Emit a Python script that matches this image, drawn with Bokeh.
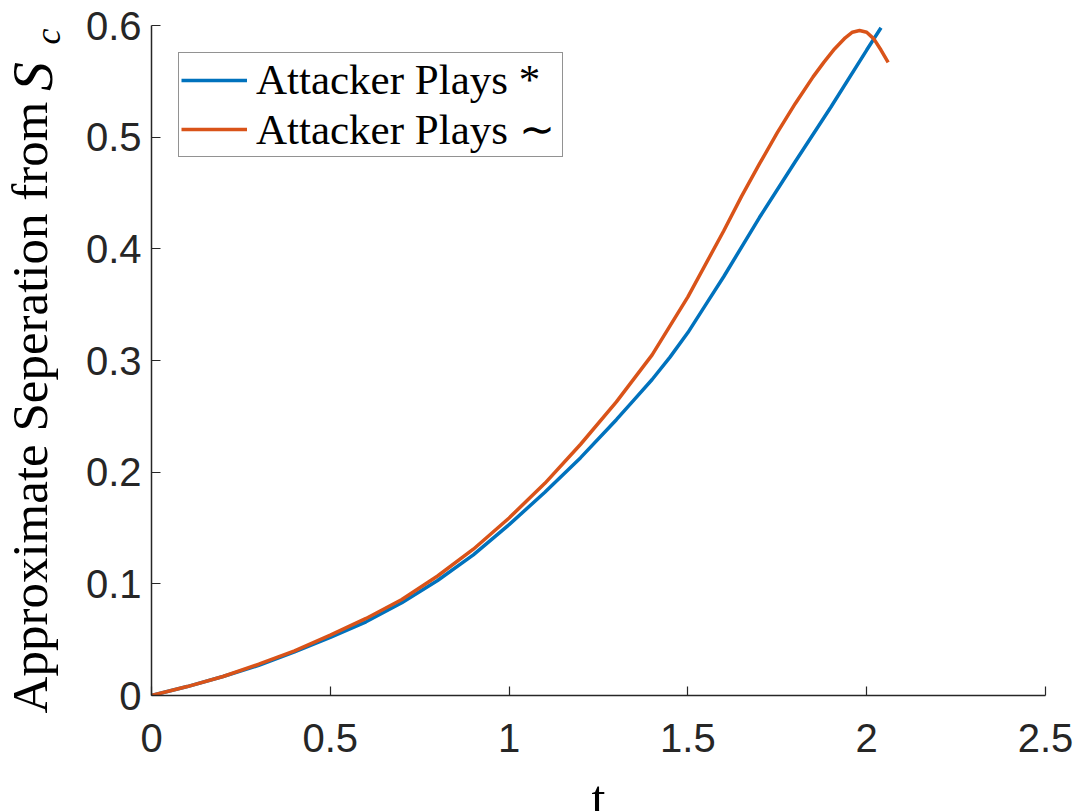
import math
from bokeh.plotting import figure
from bokeh.layouts import row, column
from bokeh.models import Legend, LegendItem, FixedTicker, Range1d
from bokeh.core.properties import value
from bokeh.embed import file_html
from bokeh.resources import INLINE

# ---- data ----
t_star = [0.00, 0.10, 0.20, 0.30, 0.40, 0.50, 0.60, 0.70, 0.80, 0.90, 1.00, 1.10,
          1.20, 1.30, 1.35, 1.40, 1.45, 1.50, 1.55, 1.60, 1.70, 1.80, 1.90, 2.00, 2.04]
sep_star = [0.000, 0.008, 0.017, 0.027, 0.039, 0.052, 0.066, 0.083, 0.103, 0.126, 0.153, 0.182,
            0.213, 0.247, 0.265, 0.283, 0.303, 0.325, 0.350, 0.375, 0.428, 0.478, 0.527, 0.578, 0.598]

t_tilde = [0.00, 0.10, 0.20, 0.30, 0.40, 0.50, 0.60, 0.70, 0.80, 0.90, 1.00, 1.10, 1.20,
           1.30, 1.40, 1.50, 1.60, 1.65, 1.70, 1.75, 1.80, 1.85, 1.88, 1.91, 1.94, 1.96,
           1.98, 2.00, 2.02, 2.04, 2.06]
sep_tilde = [0.000, 0.008, 0.017, 0.028, 0.040, 0.054, 0.069, 0.086, 0.107, 0.131, 0.159, 0.190, 0.225,
             0.263, 0.305, 0.357, 0.416, 0.447, 0.476, 0.504, 0.530, 0.554, 0.567, 0.579, 0.589, 0.594,
             0.5955, 0.594, 0.588, 0.578, 0.567]

x_ticks = [0, 0.5, 1, 1.5, 2, 2.5]
x_tick_labels = ["0", "0.5", "1", "1.5", "2", "2.5"]
y_ticks = [0, 0.1, 0.2, 0.3, 0.4, 0.5, 0.6]
y_tick_labels = ["0", "0.1", "0.2", "0.3", "0.4", "0.5", "0.6"]

series_names = ["Attacker Plays *", "Attacker Plays \u223c"]
series_colors = ["#0072BD", "#D95319"]

y_title_parts = ["Approximate Seperation from", "S", "c"]
x_title = "t"

AX = "#262626"
SERIF = "Liberation Serif"

# ---- main plot ----
p = figure(width=1010, height=780, output_backend="svg", toolbar_location=None,
           x_range=Range1d(0, 2.5), y_range=Range1d(0, 0.6),
           min_border_left=81, min_border_right=35, min_border_top=25, min_border_bottom=85)
p.title.visible = False
p.outline_line_color = None
p.xgrid.visible = False
p.ygrid.visible = False
p.background_fill_color = "white"
p.border_fill_color = "white"

for ax in (p.xaxis[0], p.yaxis[0]):
    ax.axis_line_color = AX
    ax.axis_line_width = 1.5
    ax.major_tick_line_color = AX
    ax.major_tick_line_width = 1.2
    ax.major_tick_in = 9
    ax.major_tick_out = 0
    ax.minor_tick_line_color = None
    ax.major_label_text_font = "Liberation Sans"
    ax.major_label_text_font_size = "40px"
    ax.major_label_text_color = AX

p.xaxis.ticker = FixedTicker(ticks=x_ticks)
p.yaxis.ticker = FixedTicker(ticks=y_ticks)
p.xaxis.major_label_overrides = {float(v): s for v, s in zip(x_ticks, x_tick_labels)}
p.yaxis.major_label_overrides = {float(v): s for v, s in zip(y_ticks, y_tick_labels)}
p.xaxis.major_label_standoff = 28
p.yaxis.major_label_standoff = 10

r1 = p.line(t_star, sep_star, line_color=series_colors[0], line_width=3.5)
r2 = p.line(t_tilde, sep_tilde, line_color=series_colors[1], line_width=3.5)

legend = Legend(items=[LegendItem(label=series_names[0], renderers=[r1]),
                       LegendItem(label=series_names[1], renderers=[r2])],
                location=(27, 538))
legend.label_text_font = SERIF
legend.label_text_font_size = "43px"
legend.label_text_color = "black"
legend.label_height = 46
legend.glyph_height = 46
legend.glyph_width = 66
legend.label_standoff = 9
legend.label_width = 304
legend.padding = 2
legend.spacing = 0
legend.margin = 0
legend.border_line_color = AX
legend.border_line_width = 1.2
legend.background_fill_color = "white"
legend.background_fill_alpha = 1.0
p.add_layout(legend, "center")


def blank(fig, left=0, right=0):
    fig.title.visible = False
    fig.xgrid.visible = False
    fig.ygrid.visible = False
    fig.outline_line_color = None
    fig.background_fill_color = "white"
    fig.border_fill_color = "white"
    fig.min_border = 0
    fig.min_border_left = left
    fig.min_border_right = right
    fig.min_border_top = 0
    fig.min_border_bottom = 0
    return fig


# ---- y-axis title strip (canvas pixel coordinates, y downward) ----
yfig = blank(figure(width=70, height=811, output_backend="svg", toolbar_location=None,
                    x_range=Range1d(0, 70), y_range=Range1d(811, 0),
                    x_axis_location=None, y_axis_location=None))
yfig.text(x=[29], y=[407], text=[y_title_parts[0]], angle=math.pi / 2,
          text_font=value(SERIF), text_font_size="51px", text_color="black",
          text_align="center", text_baseline="middle")
yfig.text(x=[32], y=[76], text=[y_title_parts[1]], angle=math.pi / 2,
          text_font=value(SERIF), text_font_style="italic", text_font_size="58px",
          text_color="black", text_align="center", text_baseline="middle")
yfig.text(x=[47], y=[36], text=[y_title_parts[2]], angle=math.pi / 2,
          text_font=value(SERIF), text_font_style="italic", text_font_size="36px",
          text_color="black", text_align="center", text_baseline="middle")

# ---- x-axis title strip (frame aligned with the main plot's frame) ----
tfig = blank(figure(width=1010, height=31, output_backend="svg", toolbar_location=None,
                    x_range=Range1d(151, 1045), y_range=Range1d(811, 780),
                    x_axis_location=None, y_axis_location=None), left=81, right=35)
tfig.text(x=[598], y=[797], text=[x_title], text_font=value(SERIF), text_font_size="50px",
          text_color="black", text_align="center", text_baseline="middle")

layout = row(yfig, column(p, tfig, spacing=0), spacing=0)
open("out.html", "w").write(file_html(layout, INLINE))
